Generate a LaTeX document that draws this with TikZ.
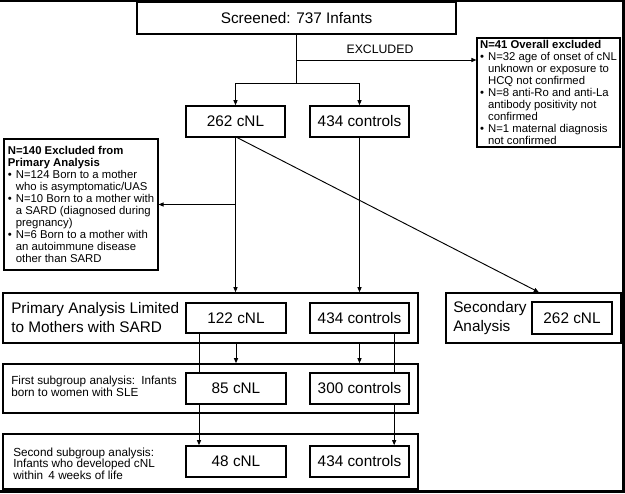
\documentclass[tikz,border=0pt]{standalone}
\usepackage{fontspec}
\setmainfont{Liberation Sans}
\usepackage{tikz}
\usetikzlibrary{arrows.meta}
\newcommand{\nbul}{\makebox[6pt][l]{\textbullet}}
\newcommand{\nind}{\hspace*{6pt}}

\begin{document}
\begin{tikzpicture}[x=0.75pt,y=-0.75pt,
  box/.style={draw,line width=1.2pt,inner sep=0pt,font=\fontsize{11.5}{14}\selectfont},
  numbox/.style={box,minimum width=74.25pt,minimum height=23.25pt},
  widebox/.style={box,minimum width=311.25pt},
  note/.style={draw,line width=0.8pt,inner sep=0pt,align=left,font=\fontsize{8.5}{9}\selectfont},
  txt/.style={anchor=west,inner sep=0pt,align=left},
  arr/.style={line width=0.7pt,-{Triangle[length=3.75pt,width=3pt]}},
  link/.style={line width=0.7pt}]
\useasboundingbox (0,0) rectangle (625,493);
\draw[line width=1.2pt] (0,0.8) -- (623.5,0.8);
\draw[line width=2.2pt] (623.5,0) -- (623.5,491.5) -- (0,491.5);

\node[box,minimum width=239.25pt,minimum height=24pt] (scr) at (296.5,18) {Screened: 737 Infants};
\node[numbox] (cnl) at (235.5,121.5) {262 cNL};
\node[numbox] (ctl) at (359.5,121.5) {434 controls};
\node[note,minimum width=107.25pt,minimum height=81.75pt] (excl) at (548.5,92.5)
  {\textbf{N=41 Overall excluded}\\
   \nbul N=32 age of onset of cNL\\
   \nind unknown or exposure to\\
   \nind HCQ not confirmed\\
   \nbul N=8 anti-Ro and anti-La\\
   \nind antibody positivity not\\
   \nind confirmed\\
   \nbul N=1 maternal diagnosis\\
   \nind not confirmed};
\node[note,minimum width=115.5pt,minimum height=98.25pt] (lft) at (81,204.5)
  {\textbf{N=140 Excluded from}\\
   \textbf{Primary Analysis}\\
   \nbul N=124 Born to a mother\\
   \nind who is asymptomatic/UAS\\
   \nbul N=10 Born to a mother with\\
   \nind a SARD (diagnosed during\\
   \nind pregnancy)\\
   \nbul N=6 Born to a mother with\\
   \nind an autoimmune disease\\
   \nind other than SARD};
\node[font=\fontsize{9.2}{11}\selectfont] (exlab) at (380,49) {EXCLUDED};

\node[widebox,minimum height=37.5pt] (prim) at (210.5,318) {};
\node[txt,font=\fontsize{11.5}{14.25}\selectfont] (primtxt) at (11,318) {Primary Analysis Limited\\to Mothers with SARD};
\node[box,minimum width=75pt,minimum height=22.5pt] (pcnl) at (236,318) {122 cNL};
\node[box,minimum width=74.25pt,minimum height=22.5pt] (pctl) at (359.5,318) {434 controls};

\node[box,minimum width=131.25pt,minimum height=37.5pt] (sec) at (533.5,318) {};
\node[txt,font=\fontsize{11.5}{14.25}\selectfont] (sectxt) at (453,318) {Secondary\\Analysis};
\node[box,minimum width=60pt,minimum height=24pt] (scnl) at (572,318) {262 cNL};

\node[widebox,minimum height=36.75pt] (fst) at (210.5,388.5) {};
\node[txt,font=\fontsize{8.8}{9}\selectfont] (fsttxt) at (11,386) {First subgroup analysis:\, Infants\\born to women with SLE};
\node[numbox,minimum width=75pt] (fcnl) at (236,388.5) {85 cNL};
\node[numbox] (fctl) at (359.5,388.5) {300 controls};

\node[widebox,minimum height=41.25pt] (snd) at (210.5,461.5) {};
\node[txt,font=\fontsize{8.8}{8.6}\selectfont] (sndtxt) at (13,463.5) {Second subgroup analysis:\\Infants who developed cNL\\within\, 4 weeks of life};
\node[numbox,minimum width=75pt] (lcnl) at (236,461.5) {48 cNL};
\node[numbox] (lctl) at (359.5,461.5) {434 controls};

\coordinate (exs) at (296.5,60);
\coordinate (brk) at (296.5,83);
\draw[link] (scr) -- (brk);
\draw[arr] (exs) -- (exs -| excl.west);
\draw[arr] (brk) -| (cnl);
\draw[arr] (brk) -| (ctl);
\draw[arr] (cnl) -- (cnl |- prim.north);
\draw[arr] (cnl |- lft.east) -- (lft.east);
\draw[arr] ([xshift=1.5pt]cnl.south) -- ([xshift=4pt]sec.north);
\draw[arr] (ctl) -- (ctl |- prim.north);
\foreach \c in {pcnl,pctl}
  \draw[arr] (\c |- prim.south) -- (\c |- fst.north);
\draw[link] ([xshift=-27.75pt]pcnl.south) -- ([xshift=-27.75pt]fcnl.north);
\draw[arr] ([xshift=-27.75pt]fcnl.south) -- ([xshift=-27.75pt]lcnl.north);
\draw[link] ([xshift=26pt]pctl.south) -- ([xshift=26pt]fctl.north);
\draw[arr] ([xshift=26pt]fctl.south) -- ([xshift=26pt]lctl.north);
\end{tikzpicture}
\end{document}
